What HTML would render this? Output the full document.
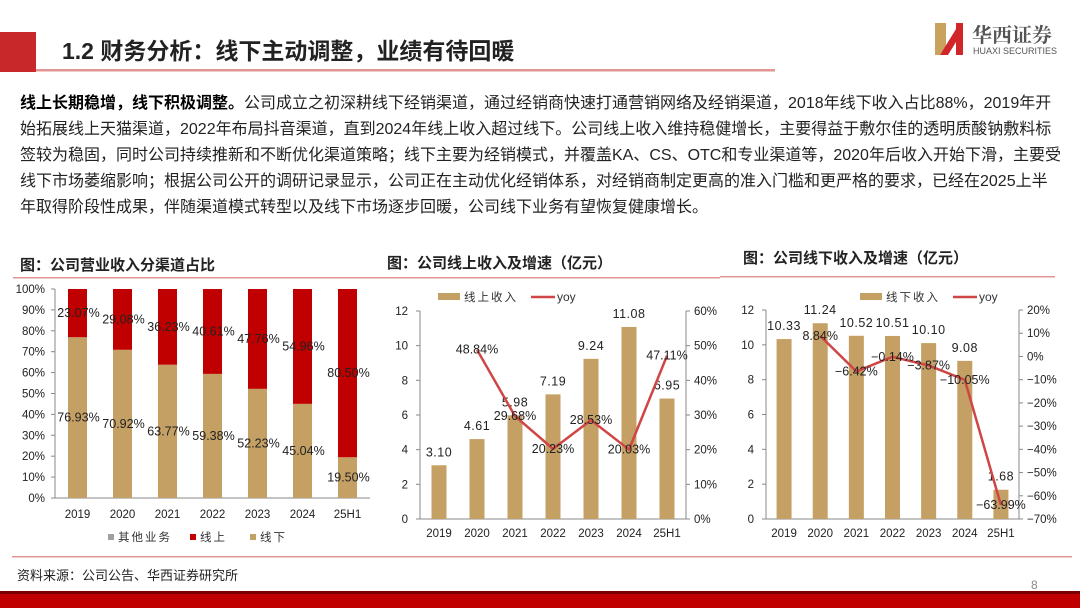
<!DOCTYPE html>
<html><head><meta charset="utf-8">
<style>
html,body{margin:0;padding:0;background:#fff;}
body{width:1080px;height:608px;overflow:hidden;position:relative;font-family:"Liberation Sans","Noto Sans CJK SC",sans-serif;}
.para{position:absolute;left:20px;top:91px;font-size:16px;line-height:26px;color:#222;white-space:nowrap;}
.para b{color:#000;}
svg{position:absolute;left:0;top:0;}
</style></head><body>
<svg id="s" width="1080" height="608" viewBox="0 0 1080 608">
  <rect x="0" y="32" width="36" height="40" fill="#c8282a"/>
  <text x="62" y="59" font-size="23" font-weight="bold" fill="#222" font-family="Liberation Sans,Noto Sans CJK SC,sans-serif">1.2 财务分析：线下主动调整，业绩有待回暖</text>
  <rect x="36" y="69" width="739" height="2.5" fill="#e39494"/>
  <g>
    <path d="M935 23 L946 23 L946 55 L935 55 Z" fill="#c9a35e"/>
    <path d="M940 55 L956 29 L956 23 L963 23 L963 55 L956 55 L956 42 L948 55 Z" fill="#d0262a"/>
    <text x="972" y="42" font-size="20" fill="#555" font-family="Noto Serif CJK SC,serif" font-weight="bold">华西证券</text>
    <text x="973" y="54" font-size="9" fill="#555" font-family="Liberation Sans,sans-serif">HUAXI SECURITIES</text>
  </g>
  <g id="c1"></g>
  <g id="c2"></g>
  <g id="c3"></g>
  <rect x="12" y="556" width="1060" height="1.5" fill="#e39494"/>
  <text x="17" y="580" font-size="13" fill="#222" font-family="Liberation Sans,Noto Sans CJK SC,sans-serif">资料来源：公司公告、华西证券研究所</text>
  <text x="1031" y="589" font-size="12" fill="#888" font-family="Liberation Sans,sans-serif">8</text>
  <rect x="0" y="591" width="1080" height="3" fill="#7a0000"/>
  <rect x="0" y="594" width="1080" height="14" fill="#c00000"/>
</svg>
<div class="para"><b>线上长期稳增，线下积极调整。</b>公司成立之初深耕线下经销渠道，通过经销商快速打通营销网络及经销渠道，2018年线下收入占比88%，2019年开<br>始拓展线上天猫渠道，2022年布局抖音渠道，直到2024年线上收入超过线下。公司线上收入维持稳健增长，主要得益于敷尔佳的透明质酸钠敷料标<br>签较为稳固，同时公司持续推新和不断优化渠道策略；线下主要为经销模式，并覆盖KA、CS、OTC和专业渠道等，2020年后收入开始下滑，主要受<br>线下市场萎缩影响；根据公司公开的调研记录显示，公司正在主动优化经销体系，对经销商制定更高的准入门槛和更严格的要求，已经在2025上半<br>年取得阶段性成果，伴随渠道模式转型以及线下市场逐步回暖，公司线下业务有望恢复健康增长。</div>
<script>
const categories = ['2019','2020','2021','2022','2023','2024','25H1'];
const shareOnline = [23.07,29.08,36.23,40.61,47.76,54.96,80.50];
const shareOffline = [76.93,70.92,63.77,59.38,52.23,45.04,19.50];
const onlineRev = [3.10,4.61,5.98,7.19,9.24,11.08,6.95];
const onlineYoy = [null,48.84,29.68,20.23,28.53,20.03,47.11];
const offlineRev = [10.33,11.24,10.52,10.51,10.10,9.08,1.68];
const offlineYoy = [null,8.84,-6.42,-0.14,-3.87,-10.05,-63.99];
const shareTicks = [0,10,20,30,40,50,60,70,80,90,100];
const revTicks = [0,2,4,6,8,10,12];
const onYoyTicks = [0,10,20,30,40,50,60];
const offYoyTicks = [20,10,0,-10,-20,-30,-40,-50,-60,-70];

const NS='http://www.w3.org/2000/svg';
const GOLD='#c4a064', RED='#c00000', LINE='#d04545';
const FONT='Liberation Sans,Noto Sans CJK SC,sans-serif';
function mk(p,tag,attrs,txt){const e=document.createElementNS(NS,tag);for(const k in attrs)e.setAttribute(k,attrs[k]);if(txt!=null)e.textContent=txt;p.appendChild(e);return e;}

function title(g,x,y,lx1,lx2,ly,t){
  const e=mk(g,'text',{x:x,y:y,'font-size':15,'font-weight':'bold',fill:'#222','font-family':FONT},t);
  
  
  const l=mk(g,'rect',{x:lx1,y:ly,width:lx2-lx1,height:1.5,fill:'#e39494'});
  
  
}

/* Chart 1 */
(function(){
  const g=document.getElementById('c1');
  title(g,20,270,13,380,277,'图：公司营业收入分渠道占比');
  const x0=55,x1=370,yT=289,yB=498;
  const cw=(x1-x0)/categories.length, bw=19;
  const y=v=>yB-(v/100)*(yB-yT);
  mk(g,'line',{x1:x0,y1:yT,x2:x0,y2:yB,stroke:'#888'});
  mk(g,'line',{x1:x0,y1:yB,x2:x1,y2:yB,stroke:'#888'});
  shareTicks.forEach(t=>{
    mk(g,'line',{x1:x0-4,y1:y(t),x2:x0,y2:y(t),stroke:'#888'});
    const e=mk(g,'text',{x:45,y:y(t)+4,'font-size':11.5,'text-anchor':'end',fill:'#222','font-family':FONT},t+'%');
    
    
  });
  categories.forEach((c,i)=>{
    const cx=x0+cw*(i+0.5);
    const off=shareOffline[i], on=shareOnline[i];
    const b1=mk(g,'rect',{x:cx-bw/2,y:y(off),width:bw,height:yB-y(off),fill:GOLD});
    
    
    const b2=mk(g,'rect',{x:cx-bw/2,y:y(off+on),width:bw,height:y(off)-y(off+on),fill:RED});
    
    
    const l1=mk(g,'text',{x:cx+1,y:y(off/2)+4,'font-size':12.5,'text-anchor':'middle',fill:'#222','font-family':FONT},off.toFixed(2)+'%');
    
    
    const l2=mk(g,'text',{x:cx+1,y:y(off+on/2)+4,'font-size':12.5,'text-anchor':'middle',fill:'#222','font-family':FONT},on.toFixed(2)+'%');
    
    
    const xl=mk(g,'text',{x:cx,y:518,'font-size':11.5,'text-anchor':'middle',fill:'#222','font-family':FONT},c);
    
    
  });
  const leg=[['其他业务','#a0a0a0',108],['线上',RED,190],['线下',GOLD,250]];
  leg.forEach(L=>{
    const gg=mk(g,'g',{});
    
    
    mk(gg,'rect',{x:L[2],y:534,width:6,height:6,fill:L[1]});
    mk(gg,'text',{x:L[2]+10,y:541,'font-size':11.5,fill:'#333','font-family':FONT,'letter-spacing':2},L[0]);
  });
})();

function comboChart(g,cfg){
  const {x0,x1,yT,yB,rev,yoy,rMin,rMax,rTicks,legendX,legendName}=cfg;
  const cw=(x1-x0)/categories.length, bw=15;
  const yl=v=>yB-(v/12)*(yB-yT);
  const yr=v=>yB-((v-rMin)/(rMax-rMin))*(yB-yT);
  mk(g,'line',{x1:x0,y1:yT,x2:x0,y2:yB,stroke:'#888'});
  mk(g,'line',{x1:x1,y1:yT,x2:x1,y2:yB,stroke:'#888'});
  mk(g,'line',{x1:x0,y1:yB,x2:x1,y2:yB,stroke:'#888'});
  revTicks.forEach(t=>{
    mk(g,'line',{x1:x0-4,y1:yl(t),x2:x0,y2:yl(t),stroke:'#888'});
    const e=mk(g,'text',{x:x0-12,y:yl(t)+4,'font-size':11.5,'text-anchor':'end',fill:'#222','font-family':FONT},t);
    
    
  });
  rTicks.forEach(t=>{
    mk(g,'line',{x1:x1,y1:yr(t),x2:x1+4,y2:yr(t),stroke:'#888'});
    const e=mk(g,'text',{x:x1+8,y:yr(t)+4,'font-size':11.5,fill:'#222','font-family':FONT},(t<0?'−'+(-t):t)+'%');
    
    
  });
  const pts=[];
  categories.forEach((c,i)=>{
    const cx=x0+cw*(i+0.5);
    const b=mk(g,'rect',{x:cx-bw/2,y:yl(rev[i]),width:bw,height:yB-yl(rev[i]),fill:GOLD});
    
    
    const l=mk(g,'text',{x:cx,y:yl(rev[i])-9,'font-size':12.5,'text-anchor':'middle',fill:'#222','font-family':FONT,'letter-spacing':0.5},rev[i].toFixed(2));
    
    
    const xl=mk(g,'text',{x:cx,y:537,'font-size':11.5,'text-anchor':'middle',fill:'#222','font-family':FONT},c);
    
    
    if(yoy[i]!=null) pts.push([cx,yr(yoy[i]),yoy[i]]);
  });
  const pl=mk(g,'polyline',{points:pts.map(p=>p[0]+','+p[1]).join(' '),fill:'none',stroke:LINE,'stroke-width':2.5});
  
  
  pts.forEach(p=>{
    const t=mk(g,'text',{x:p[0],y:p[1]+4,'font-size':12.5,'text-anchor':'middle',fill:'#222','font-family':FONT},(p[2]<0?'−'+(-p[2]).toFixed(2):p[2].toFixed(2))+'%');
    
    
  });
  const lg=mk(g,'g',{});
  
  
  mk(lg,'rect',{x:legendX,y:293,width:22,height:7,fill:GOLD});
  mk(lg,'text',{x:legendX+26,y:301,'font-size':11.5,fill:'#333','font-family':FONT,'letter-spacing':2},legendName);
  mk(lg,'line',{x1:legendX+93,y1:297,x2:legendX+117,y2:297,stroke:LINE,'stroke-width':2.5});
  mk(lg,'text',{x:legendX+119,y:301,'font-size':12,fill:'#333','font-family':FONT},'yoy');
}

(function(){
  const g=document.getElementById('c2');
  title(g,387,268,380,720,277,'图：公司线上收入及增速（亿元）');
  comboChart(g,{x0:420,x1:686,yT:311,yB:519,rev:onlineRev,yoy:onlineYoy,rMin:0,rMax:60,rTicks:onYoyTicks,legendX:438,legendName:'线上收入'});
})();
(function(){
  const g=document.getElementById('c3');
  title(g,743,263,720,1055,276,'图：公司线下收入及增速（亿元）');
  comboChart(g,{x0:766,x1:1019,yT:310,yB:519,rev:offlineRev,yoy:offlineYoy,rMin:-70,rMax:20,rTicks:offYoyTicks,legendX:860,legendName:'线下收入'});
})();
</script>
</body></html>
